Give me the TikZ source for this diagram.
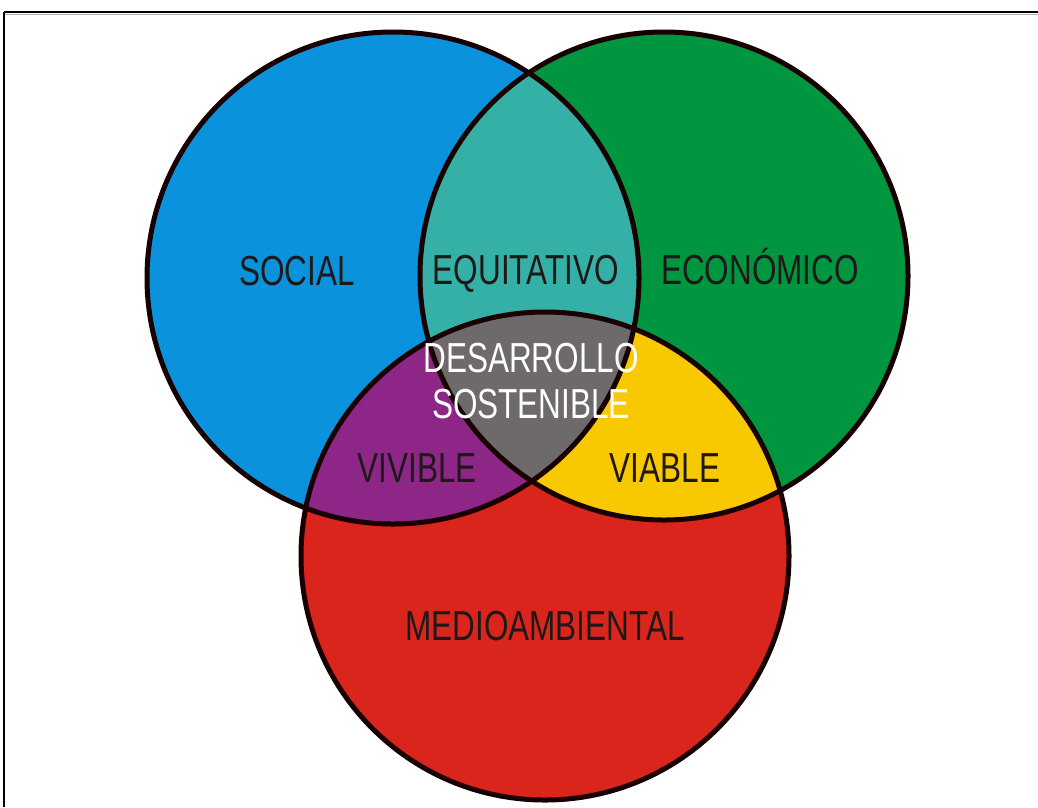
\documentclass[tikz,border=0pt]{standalone}
\usepackage{fontspec}
\setmainfont{Liberation Sans}[FakeStretch=0.75]
\definecolor{cblue}{RGB}{10,146,220}
\definecolor{cgreen}{RGB}{0,150,64}
\definecolor{cred}{RGB}{218,37,29}
\definecolor{cteal}{RGB}{53,176,166}
\definecolor{cpurple}{RGB}{142,38,136}
\definecolor{cyellow}{RGB}{248,200,0}
\definecolor{cgray}{RGB}{110,106,107}
\definecolor{ctext}{RGB}{30,25,25}
\tikzset{
  lbl/.style={font=\fontsize{42}{46}\selectfont, text=ctext, inner sep=0pt, anchor=base},
  wlbl/.style={lbl, text=white},
  ring/.style={draw=black!90!red, line width=5pt}
}
\begin{document}
\begin{tikzpicture}[x=1pt,y=-1pt]
\useasboundingbox (0,0) rectangle (1038,807);
\fill[white] (0,0) rectangle (1038,807);
% frame
\draw[gray!60, line width=1.5pt] (5,14.5) -- (1038,14.5);
\draw[black, line width=1.6pt] (4,12) -- (1038,12);
\draw[black, line width=1.6pt] (4,12) -- (4,807);
% centres
\coordinate (S) at (393,278);
\coordinate (E) at (664,276);
\coordinate (M) at (545,556);
\def\rS{246}\def\rE{244}\def\rM{244}
% base fills
\fill[cblue] (S) circle[radius=\rS];
\fill[cgreen] (E) circle[radius=\rE];
\fill[cred] (M) circle[radius=\rM];
% pairwise
\begin{scope}\clip (S) circle[radius=\rS]; \fill[cteal] (E) circle[radius=\rE];\end{scope}
\begin{scope}\clip (S) circle[radius=\rS]; \fill[cpurple] (M) circle[radius=\rM];\end{scope}
\begin{scope}\clip (E) circle[radius=\rE]; \fill[cyellow] (M) circle[radius=\rM];\end{scope}
\begin{scope}\clip (S) circle[radius=\rS]; \clip (E) circle[radius=\rE]; \fill[cgray] (M) circle[radius=\rM];\end{scope}
% outlines
\draw[ring] (S) circle[radius=\rS];
\draw[ring] (E) circle[radius=\rE];
\draw[ring] (M) circle[radius=\rM];
% labels
\node[lbl] (social) at (297,285) {SOCIAL};
\node[lbl] (equi) at (526,284) {EQUITATIVO};
\node[lbl] (econ) at (760,284) {ECONÓMICO};
\node[wlbl] (des) at (531,372) {DESARROLLO};
\node[wlbl] (sos) at (531,418) {SOSTENIBLE};
\node[lbl] (vivi) at (417,482) {VIVIBLE};
\node[lbl] (viab) at (665,482) {VIABLE};
\node[lbl] (medio) at (545,640) {MEDIOAMBIENTAL};
\end{tikzpicture}
\end{document}
